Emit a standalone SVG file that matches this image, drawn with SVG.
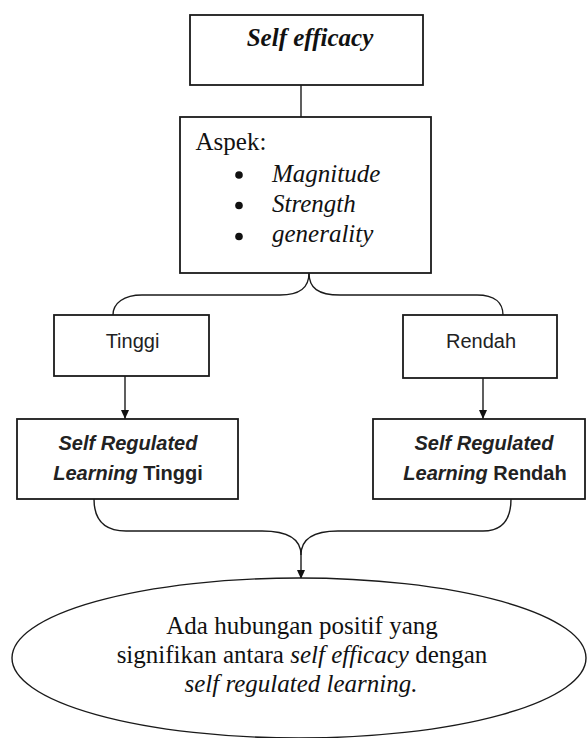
<svg xmlns="http://www.w3.org/2000/svg" width="587" height="738" viewBox="0 0 587 738">
  <defs>
    <marker id="arrow" markerWidth="10" markerHeight="10" refX="9" refY="5" orient="auto" markerUnits="userSpaceOnUse">
      <path d="M0,1 L9,5 L0,9 Z" fill="#111"/>
    </marker>
    <style>
      .box { fill: #fff; stroke: #1a1a1a; stroke-width: 1.8; }
      .conn { fill: none; stroke: #1a1a1a; stroke-width: 1.4; }
      .serif { font-family: "Liberation Serif", "Times New Roman", serif; font-size: 25px; fill: #111; }
      .sans { font-family: "Liberation Sans", Arial, sans-serif; font-size: 20px; fill: #222; }
      .bold { font-weight: bold; }
      .it { font-style: italic; }
    </style>
  </defs>
  <rect width="587" height="738" fill="#fff"/>

  <g id="connectors">
    <line class="conn" x1="301" y1="85" x2="301" y2="117"/>
    <path class="conn" d="M309,273 C309,288 300,295 280,295 L142,295 C124,295 113,303 113,315"/>
    <path class="conn" d="M309,273 C309,288 318,295 340,295 L477,295 C495,295 503,303 503,315"/>
    <line class="conn" x1="125" y1="376" x2="125" y2="419" marker-end="url(#arrow)"/>
    <line class="conn" x1="483" y1="378" x2="483" y2="419" marker-end="url(#arrow)"/>
    <path class="conn" d="M94,499 C94,520 104,531 126,531 L262,531 C290,531 301,540 301,555"/>
    <path class="conn" d="M511,499 C511,520 502,531 483,531 L338,531 C312,531 301,540 301,555"/>
    <line class="conn" x1="301" y1="555" x2="301" y2="579" marker-end="url(#arrow)"/>
  </g>

  <g id="node-self-efficacy">
    <rect class="box" x="190" y="15" width="233" height="70"/>
    <text class="serif bold it" x="310" y="46" text-anchor="middle">Self efficacy</text>
  </g>

  <g id="node-aspek">
    <rect class="box" x="180" y="117" width="251" height="156"/>
    <text class="serif" x="195.5" y="150">Aspek:</text>
    <circle cx="239" cy="175" r="3.8" fill="#111"/>
    <circle cx="239" cy="205.5" r="3.8" fill="#111"/>
    <circle cx="239" cy="236.5" r="3.8" fill="#111"/>
    <text class="serif it" x="272" y="182">Magnitude</text>
    <text class="serif it" x="272" y="212">Strength</text>
    <text class="serif it" x="272" y="242">generality</text>
  </g>

  <g id="node-tinggi">
    <rect class="box" x="54" y="315" width="155" height="61"/>
    <text class="sans" x="132.5" y="348" text-anchor="middle">Tinggi</text>
  </g>

  <g id="node-rendah">
    <rect class="box" x="403" y="315" width="154" height="63"/>
    <text class="sans" x="481" y="348" text-anchor="middle">Rendah</text>
  </g>

  <g id="node-srl-tinggi">
    <rect class="box" x="17" y="419" width="221" height="80"/>
    <text class="sans bold" x="128" y="450" text-anchor="middle"><tspan class="it">Self Regulated</tspan></text>
    <text class="sans bold" x="128" y="480" text-anchor="middle"><tspan class="it">Learning</tspan> Tinggi</text>
  </g>

  <g id="node-srl-rendah">
    <rect class="box" x="373" y="419" width="212" height="80"/>
    <text class="sans bold" x="484" y="450" text-anchor="middle"><tspan class="it">Self Regulated</tspan></text>
    <text class="sans bold" x="485" y="480" text-anchor="middle"><tspan class="it">Learning</tspan> Rendah</text>
  </g>

  <g id="node-conclusion">
    <ellipse class="box" cx="299" cy="658" rx="287" ry="80" style="stroke-width:1.4"/>
    <text class="serif" x="302" y="634" text-anchor="middle">Ada hubungan positif yang</text>
    <text class="serif" x="302" y="663" text-anchor="middle">signifikan antara <tspan class="it">self efficacy</tspan> dengan</text>
    <text class="serif it" x="301" y="692" text-anchor="middle">self regulated learning.</text>
  </g>
</svg>
